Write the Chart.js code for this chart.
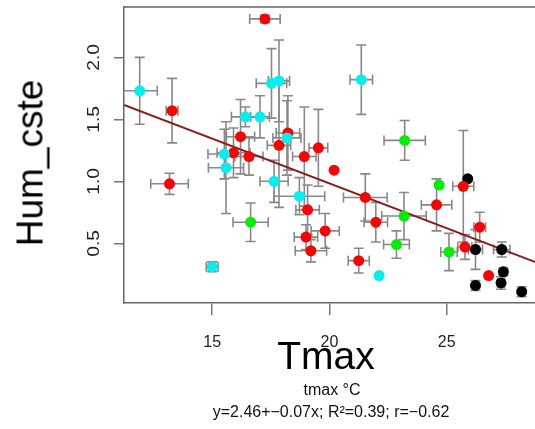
<!DOCTYPE html>
<html>
<head>
<meta charset="utf-8">
<script src="https://cdn.jsdelivr.net/npm/chart.js@4"></script>
<style>
  body { margin: 0; background: #fff; overflow: hidden; font-family: "Liberation Sans", Arial, sans-serif; }
  #wrap { position: relative; width: 535px; height: 429px; overflow: hidden; }
  #grafico { position: absolute; left: 0; top: 0; }
  .lbl { position: absolute; white-space: nowrap; line-height: 1; color: #000; transform: translate(-50%, -50%); }
  #ylab { left: 30px; top: 163px; font-size: 37px; transform: translate(-50%, -50%) rotate(-90deg); }
  #xlab { left: 326px; top: 355px; font-size: 39px; }
  #unit { left: 332px; top: 390px; font-size: 16px; color: #111; }
  #eq { left: 331px; top: 412px; font-size: 16px; color: #111; }
</style>
</head>
<body>
<div id="wrap">
  <canvas id="grafico" width="560" height="429"></canvas>
  <div class="lbl" id="ylab">Hum_cste</div>
  <div class="lbl" id="xlab">Tmax</div>
  <div class="lbl" id="unit">tmax °C</div>
  <div class="lbl" id="eq">y=2.46+−0.07x; R²=0.39; r=−0.62</div>
</div>
<script>
const xTicks = [15, 20, 25];
const yTicks = [0.5, 1.0, 1.5, 2.0];

// cyan
const cyanX  = [11.91, 17.53, 17.85, 16.42, 17.04, 18.19, 15.52, 15.59, 17.64, 18.72, 15.0, 21.36, 22.12];
const cyanY  = [1.73, 1.79, 1.81, 1.52, 1.52, 1.35, 1.22, 1.11, 1.0, 0.88, 0.31, 1.82, 0.24];
const cyanEx = [0.75, 0.65, 0.45, 0.6, 0.4, 0.6, 0.7, 0.75, 0.6, 1.08, 0.25, 0.48, 0];
const cyanEy = [0.27, 0.28, 0.33, 0.08, 0.17, 0.3, 0.2, 0.37, 0.17, 0.15, 0.04, 0.28, 0];

// vermelho
const redX  = [13.29, 17.25, 18.23, 16.21, 17.85, 15.91, 16.57, 18.93, 19.53, 20.2, 13.18, 19.07, 19.82, 19.0, 19.21, 21.53, 21.98, 21.25, 24.57, 25.71, 26.41, 25.78, 26.79];
const redY  = [1.57, 2.31, 1.39, 1.36, 1.29, 1.23, 1.2, 1.2, 1.27, 1.09, 0.98, 0.77, 0.6, 0.55, 0.44, 0.87, 0.67, 0.36, 0.81, 0.96, 0.63, 0.47, 0.24];
const redEx = [0.25, 0.65, 0.5, 0.6, 0.5, 0.7, 0.6, 0.5, 0.4, 0, 0.8, 0.5, 0.6, 0.5, 0.67, 0.93, 0.5, 0.45, 0.65, 0.45, 0.25, 0.3, 0];
const redEy = [0.26, 0.03, 0.3, 0.3, 0.5, 0.2, 0.15, 0.4, 0.31, 0, 0.085, 0.2, 0.14, 0.1, 0.09, 0.19, 0.16, 0.1, 0.21, 0.45, 0.12, 0.1, 0];

// verde
const greenX  = [16.64, 23.21, 23.18, 22.86, 24.68, 25.1];
const greenY  = [0.67, 1.33, 0.72, 0.49, 0.97, 0.43];
const greenEx = [0.75, 0.88, 0.95, 0.55, 0, 0.35];
const greenEy = [0.155, 0.16, 0.19, 0.11, 0, 0.15];

// preto
const blackX  = [25.9, 26.23, 27.35, 27.42, 27.32, 26.23, 28.2];
const blackY  = [1.02, 0.45, 0.45, 0.27, 0.18, 0.16, 0.11];
const blackEx = [0, 0.3, 0.35, 0.1, 0.15, 0.1, 0.1];
const blackEy = [0, 0.16, 0.06, 0.03, 0.05, 0.04, 0.04];

// recta de regressao (extremos)
const fitX = [11.24, 29.6];
const fitY = [1.616, 0.29];

function grupo(xs, ys, ex, ey, cor) {
  return {
    type: "scatter",
    data: xs.map((x, i) => ({ x: x, y: ys[i] })),
    errX: ex,
    errY: ey,
    backgroundColor: cor,
    borderWidth: 0,
    pointRadius: 5.5,
    order: 0
  };
}

const barras = {
  id: "barras",
  beforeDatasetsDraw(chart) {
    const ctx = chart.ctx;
    const sx = chart.scales.x, sy = chart.scales.y;
    const a = chart.chartArea;
    const cap = 5;
    ctx.save();
    ctx.beginPath();
    ctx.rect(a.left, a.top, a.right - a.left, a.bottom - a.top);
    ctx.clip();
    ctx.strokeStyle = "#888";
    ctx.lineWidth = 1.6;
    chart.data.datasets.forEach(ds => {
      if (!ds.errX) return;
      ds.data.forEach((p, i) => {
        const px = sx.getPixelForValue(p.x);
        const py = sy.getPixelForValue(p.y);
        ctx.beginPath();
        if (ds.errX[i] > 0) {
          const x1 = sx.getPixelForValue(p.x - ds.errX[i]);
          const x2 = sx.getPixelForValue(p.x + ds.errX[i]);
          ctx.moveTo(x1, py); ctx.lineTo(x2, py);
          ctx.moveTo(x1, py - cap); ctx.lineTo(x1, py + cap);
          ctx.moveTo(x2, py - cap); ctx.lineTo(x2, py + cap);
        }
        if (ds.errY[i] > 0) {
          const y1 = sy.getPixelForValue(p.y - ds.errY[i]);
          const y2 = sy.getPixelForValue(p.y + ds.errY[i]);
          ctx.moveTo(px, y1); ctx.lineTo(px, y2);
          ctx.moveTo(px - cap, y1); ctx.lineTo(px + cap, y1);
          ctx.moveTo(px - cap, y2); ctx.lineTo(px + cap, y2);
        }
        ctx.stroke();
      });
    });
    ctx.restore();
  },
  afterDraw(chart) {
    const ctx = chart.ctx;
    const a = chart.chartArea;
    const sy = chart.scales.y;
    ctx.save();
    // moldura de cima
    ctx.strokeStyle = "#666";
    ctx.lineWidth = 1.5;
    ctx.beginPath();
    ctx.moveTo(a.left, a.top);
    ctx.lineTo(a.right, a.top);
    ctx.stroke();
    // etiquetas do eixo y, rodadas
    ctx.fillStyle = "#222";
    ctx.font = "16px 'Liberation Sans', Arial, sans-serif";
    ctx.textAlign = "center";
    ctx.textBaseline = "middle";
    yTicks.forEach(v => {
      ctx.save();
      ctx.translate(95, sy.getPixelForValue(v));
      ctx.rotate(-Math.PI / 2);
      ctx.scale(1.2, 1);
      ctx.fillText(v.toFixed(1), 0, 0);
      ctx.restore();
    });
    ctx.restore();
  }
};

const ctx = document.getElementById("grafico");

new Chart(ctx, {
  data: {
    datasets: [
      grupo(cyanX, cyanY, cyanEx, cyanEy, "#00f0f0"),
      grupo(redX, redY, redEx, redEy, "#ff0000"),
      grupo(greenX, greenY, greenEx, greenEy, "#00ee00"),
      grupo(blackX, blackY, blackEx, blackEy, "#000000"),
      {
        type: "line",
        data: fitX.map((x, i) => ({ x: x, y: fitY[i] })),
        borderColor: "#8b1a1a",
        borderWidth: 2,
        pointRadius: 0,
        fill: false,
        order: 10
      }
    ]
  },
  options: {
    responsive: false,
    animation: false,
    events: [],
    layout: { padding: { top: 7, left: 0, right: 0, bottom: 0 } },
    plugins: {
      legend: { display: false },
      tooltip: { enabled: false }
    },
    scales: {
      x: {
        type: "linear",
        min: 11.24,
        max: 29.6,
        afterBuildTicks: s => { s.ticks = xTicks.map(v => ({ value: v })); },
        afterFit: s => { s.height = 126; },
        ticks: {
          padding: 18,
          color: "#222",
          font: { size: 16, family: "'Liberation Sans', Arial, sans-serif" },
          maxRotation: 0
        },
        grid: { drawOnChartArea: false, drawTicks: true, tickLength: 12, color: "#777", lineWidth: 1.5 },
        border: { display: true, color: "#666", width: 1.5 }
      },
      y: {
        type: "linear",
        min: 0.0185,
        max: 2.406,
        afterBuildTicks: s => { s.ticks = yTicks.map(v => ({ value: v })); },
        afterFit: s => { s.width = 124; },
        ticks: { display: false },
        grid: { drawOnChartArea: false, drawTicks: true, tickLength: 10, color: "#777", lineWidth: 1.5 },
        border: { display: true, color: "#666", width: 1.5 }
      }
    }
  },
  plugins: [barras]
});
</script>
</body>
</html>
